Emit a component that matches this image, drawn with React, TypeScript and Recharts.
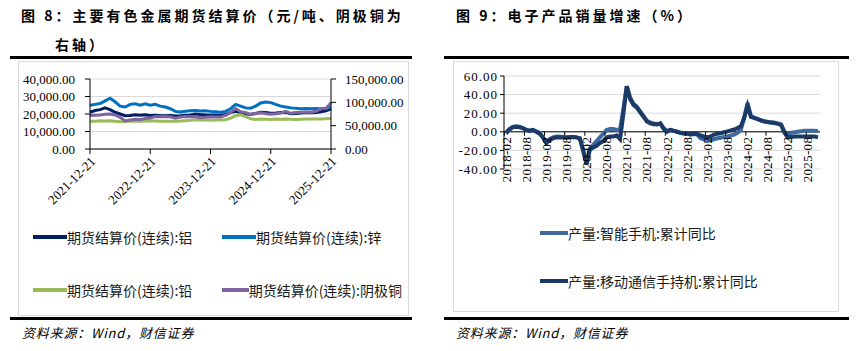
import React from 'react';
import { LineChart, Line, XAxis, YAxis, CartesianGrid, Legend, ReferenceLine } from 'recharts';

const SERIF = '"Liberation Serif","Times New Roman",serif';
const CJK = '"Noto Sans CJK SC","Noto Sans",sans-serif';

// ---------- Left chart data (monthly settlement prices) ----------
const L_DATES = [
  '2021-12-21',
  '2022-01-21', '2022-02-21', '2022-03-21', '2022-04-21', '2022-05-21', '2022-06-21',
  '2022-07-21', '2022-08-21', '2022-09-21', '2022-10-21', '2022-11-21', '2022-12-21',
  '2023-01-21', '2023-02-21', '2023-03-21', '2023-04-21', '2023-05-21', '2023-06-21',
  '2023-07-21', '2023-08-21', '2023-09-21', '2023-10-21', '2023-11-21', '2023-12-21',
  '2024-01-21', '2024-02-21', '2024-03-21', '2024-04-21', '2024-05-21', '2024-06-21',
  '2024-07-21', '2024-08-21', '2024-09-21', '2024-10-21', '2024-11-21', '2024-12-21',
  '2025-01-21', '2025-02-21', '2025-03-21', '2025-04-21', '2025-05-21', '2025-06-21',
  '2025-07-21', '2025-08-21', '2025-09-21', '2025-10-21', '2025-11-21', '2025-12-21',
];
const L_TICKS = ['2021-12-21', '2022-12-21', '2023-12-21', '2024-12-21', '2025-12-21'];
const AL = [
  21000,
  22000, 22500, 23500, 22500, 21000, 20000, 19000, 19200, 19500, 19300, 19500, 19200,
  19300, 19000, 19000, 19200, 18800, 19000, 19300, 19500, 20000, 19700, 19500, 19500,
  19500, 19300, 19700, 20800, 21500, 20800, 20000, 19800, 20300, 21000, 20800, 20500,
  20600, 20800, 21000, 20200, 20300, 20600, 20800, 20700, 20900, 21300, 21800, 23000,
];
const ZN = [
  25000,
  25500, 26000, 27500, 29000, 27000, 24500, 24000, 25500, 25800, 25000, 25800, 25000,
  25500, 24500, 24000, 23000, 21500, 21200, 21600, 21800, 22000, 21700, 21800, 21500,
  21300, 21000, 21500, 23000, 25500, 24500, 23500, 23300, 24500, 26300, 26800, 26500,
  25500, 24500, 24000, 23500, 23300, 23000, 23200, 23000, 23100, 23000, 23300, 23800,
];
const PB = [
  15800,
  15900, 16100, 16000, 16100, 15800, 15600, 15700, 15900, 15800, 15900, 16000, 16100,
  16000, 15900, 15800, 15900, 15800, 16000, 16200, 16400, 16700, 16600, 16500, 16400,
  16500, 16600, 16700, 17600, 19000, 19500, 18500, 17300, 16900, 17100, 17000, 16900,
  17100, 17000, 17200, 17000, 16900, 17000, 17200, 17100, 17200, 17100, 17300, 17400,
];
const CU = [
  72000,
  72500, 73000, 74500, 75000, 73000, 68000, 60000, 62000, 63500, 63000, 65500, 66500,
  69500, 69000, 69500, 69000, 66000, 68500, 69500, 69000, 69000, 67000, 68000, 69000,
  68500, 68500, 72000, 78000, 86500, 80000, 78000, 73500, 76000, 77500, 75500, 74500,
  75500, 77000, 80500, 76500, 78000, 79000, 79500, 79000, 81000, 86500, 87000, 99000,
];
const L_LEFT_TICKS = [0, 10000, 20000, 30000, 40000];
const L_RIGHT_TICKS = [0, 50000, 100000, 150000];
const L_ORDER = ['al', 'zn', 'pb', 'cu'];

// ---------- Right chart data (cumulative YoY, %) ----------
const R_MONTHS = [
  '2018-02', '2018-03', '2018-04', '2018-05', '2018-06', '2018-07', '2018-08', '2018-09', '2018-10', '2018-11', '2018-12',
  '2019-01', '2019-02', '2019-03', '2019-04', '2019-05', '2019-06', '2019-07', '2019-08', '2019-09', '2019-10', '2019-11', '2019-12',
  '2020-01', '2020-02', '2020-03', '2020-04', '2020-05', '2020-06', '2020-07', '2020-08', '2020-09', '2020-10', '2020-11', '2020-12',
  '2021-01', '2021-02', '2021-03', '2021-04', '2021-05', '2021-06', '2021-07', '2021-08', '2021-09', '2021-10', '2021-11', '2021-12',
  '2022-01', '2022-02', '2022-03', '2022-04', '2022-05', '2022-06', '2022-07', '2022-08', '2022-09', '2022-10', '2022-11', '2022-12',
  '2023-01', '2023-02', '2023-03', '2023-04', '2023-05', '2023-06', '2023-07', '2023-08', '2023-09', '2023-10', '2023-11', '2023-12',
  '2024-01', '2024-02', '2024-03', '2024-04', '2024-05', '2024-06', '2024-07', '2024-08', '2024-09', '2024-10', '2024-11', '2024-12',
  '2025-01', '2025-02', '2025-03', '2025-04', '2025-05', '2025-06', '2025-07', '2025-08', '2025-09', '2025-10', '2025-11',
];
const SMART = [
  -2, 2, 5, 6, 5.5, 4, 2.5, 1, 2, 0.5, -1,
  -6, -11, -8, -6, -5, -5, -5.5, -6, -6, -5.5, -6, -7,
  -20, -34, -18, -14, -10, -6, -2, 2, 3, 3, 2, 3,
  25, 49, 37, 30, 27, 22, 17, 12, 10, 9, 8, 9,
  4, 1, 2, 1, 0, -1, -2, -2, -3, -2.5, -3, -7,
  -8, -10, -9, -8, -7, -6.5, -5.5, -5, -4, -3, -1, 2,
  15, 31, 17, 15, 14, 12.5, 11.5, 10.5, 10, 10, 9, 8,
  0, -3, -1, -0.5, 0, 0.5, 1, 1, 1, 1, 0.5,
];
const HANDSET = [
  -1, 3, 5, 5.5, 5, 4, 2, 1, 2, 0, -2,
  -6, -12, -9, -7, -6, -6, -6, -6, -5.5, -5.5, -6, -7,
  -20, -35, -19, -17, -15, -12, -10, -6, -5, -5, -4, -8,
  20, 49, 35, 29, 26, 21, 16, 11, 9, 8, 8, 9,
  3, 0, 2, 1, 0, -1, -1.5, -2, -2.5, -2, -2, -4,
  -5, -6, -5, -3, -2, -1.5, -0.5, 0.5, 1.5, 2.5, 4, 6,
  15, 28, 16, 15, 13.5, 12, 11, 10.5, 10, 9.5, 8.5, 7.5,
  -1, -6, -5.5, -5, -5, -5, -5, -5, -5, -5, -6,
];
const R_TICKS = [-40, -20, 0, 20, 40, 60];
const R_ORDER = ['smart', 'handset'];

// ---------- layout constants ----------
const L_W = 390, L_H = 250, L_MT = 17, L_MB = 5, L_LH = 85, L_XH = 73;
const R_W = 385, R_H = 250, R_MT = 14, R_MB = 5, R_LH = 95, R_XH = 43;
const R_MIN = -40, R_MAX = 60;
const R_PLOT_H = R_H - R_MT - R_MB - R_LH - R_XH;
const R_ZERO_Y = R_MT + (R_PLOT_H * (R_MAX - 0)) / (R_MAX - R_MIN);

const leftData = L_DATES.map((d, i) => ({ date: d, al: AL[i], zn: ZN[i], pb: PB[i], cu: CU[i] }));
const rightData = R_MONTHS.map((m, i) => ({ month: m, smart: SMART[i], handset: HANDSET[i] }));

const fmtThousands = (v: number) =>
  v.toLocaleString('en-US', { minimumFractionDigits: 2, maximumFractionDigits: 2 });

const sortBy = (items: any[], order: string[]) =>
  [...items].sort((a, b) => order.indexOf(String(a.dataKey)) - order.indexOf(String(b.dataKey)));

const LeftXTick = (props: any) => {
  const { x, y, payload } = props;
  return (
    <text
      transform={`translate(${x + 3},${y + 3}) rotate(-45)`}
      textAnchor="end"
      dy="0.35em"
      fontSize={13}
      fontFamily={SERIF}
      fill="#000"
    >
      {payload.value}
    </text>
  );
};

const RightXTick = (props: any) => {
  const { x, payload } = props;
  return (
    <g>
      <line x1={x - 1.7} x2={x - 1.7} y1={R_ZERO_Y} y2={R_ZERO_Y + 4} stroke="#000" strokeWidth={1} />
      <text
        transform={`translate(${x},${R_ZERO_Y + 5}) rotate(-90)`}
        textAnchor="end"
        dy="0.35em"
        fontSize={13}
        fontFamily={SERIF}
        fill="#000"
        letterSpacing={0.3}
      >
        {payload.value}
      </text>
    </g>
  );
};

const LeftLegend = (props: any) => {
  const items = sortBy(props.payload || [], L_ORDER);
  return (
    <div
      style={{
        display: 'grid',
        gridTemplateColumns: '189px 180px',
        rowGap: 21,
        paddingLeft: 15,
        height: L_LH,
        boxSizing: 'border-box',
        fontFamily: CJK,
        fontSize: 14,
        color: '#1a1a1a',
      }}
    >
      {items.map((it: any) => (
        <div key={it.value} style={{ display: 'flex', alignItems: 'center', height: 30, whiteSpace: 'nowrap' }}>
          <span style={{ display: 'inline-block', width: 34, height: 3.5, background: it.color }} />
          <span>{it.value}</span>
        </div>
      ))}
    </div>
  );
};

const RightLegend = (props: any) => {
  const items = sortBy(props.payload || [], R_ORDER);
  return (
    <div
      style={{
        display: 'flex',
        flexDirection: 'column',
        paddingLeft: 87,
        paddingTop: 6,
        rowGap: 18,
        height: R_LH,
        boxSizing: 'border-box',
        fontFamily: CJK,
        fontSize: 14,
        color: '#1a1a1a',
      }}
    >
      {items.map((it: any) => (
        <div key={it.value} style={{ display: 'flex', alignItems: 'center', height: 30, whiteSpace: 'nowrap' }}>
          <span style={{ display: 'inline-block', width: 28, height: 3.5, background: it.color }} />
          <span>{it.value}</span>
        </div>
      ))}
    </div>
  );
};

const titleStyle: React.CSSProperties = {
  position: 'absolute',
  fontFamily: CJK,
  fontWeight: 700,
  fontSize: 14,
  letterSpacing: 3,
  lineHeight: '18px',
  color: '#000',
  whiteSpace: 'nowrap',
};
const footStyle: React.CSSProperties = {
  position: 'absolute',
  fontFamily: CJK,
  fontStyle: 'italic',
  fontSize: 13,
  letterSpacing: 0.8,
  lineHeight: '16px',
  color: '#000',
  whiteSpace: 'nowrap',
};
const rule = (left: number, top: number, width: number): React.CSSProperties => ({
  position: 'absolute',
  left,
  top,
  width,
  height: 3,
  background: '#000',
});
const frame = (left: number, top: number, width: number, height: number): React.CSSProperties => ({
  position: 'absolute',
  left,
  top,
  width,
  height,
  border: '1px solid #D9D9D9',
  boxSizing: 'border-box',
});

export default function App() {
  return (
    <div style={{ position: 'absolute', left: 0, top: 0, width: 865, height: 351, background: '#fff', overflow: 'hidden' }}>
      {/* Left panel */}
      <div style={{ ...titleStyle, left: 21, top: 6 }}>图 8：主要有色金属期货结算价（元/吨、阴极铜为</div>
      <div style={{ ...titleStyle, left: 55, top: 35 }}>右轴）</div>
      <div style={rule(10, 56, 402)} />
      <div style={frame(18, 61, 391, 255)} />
      <div style={{ position: 'absolute', left: 18, top: 62 }}>
        <LineChart width={L_W} height={L_H} data={leftData} margin={{ top: L_MT, right: 5, left: 0, bottom: L_MB }}>
          <CartesianGrid yAxisId="left" vertical={false} stroke="#D9D9D9" />
          <XAxis
            dataKey="date"
            ticks={L_TICKS}
            interval={0}
            height={L_XH}
            tick={(p: any) => <LeftXTick {...p} />}
            tickSize={5}
            tickLine={{ stroke: '#000' }}
            axisLine={{ stroke: '#000' }}
          />
          <YAxis
            yAxisId="left"
            width={72}
            domain={[0, 40000]}
            ticks={L_LEFT_TICKS}
            interval={0}
            tickFormatter={fmtThousands}
            tick={{ fontSize: 13, fontFamily: SERIF, fill: '#000' }}
            tickSize={5}
            tickMargin={10}
            tickLine={{ stroke: '#000' }}
            axisLine={{ stroke: '#000' }}
          />
          <YAxis
            yAxisId="right"
            orientation="right"
            width={72}
            domain={[0, 150000]}
            ticks={L_RIGHT_TICKS}
            interval={0}
            tickFormatter={fmtThousands}
            tick={{ fontSize: 13, fontFamily: SERIF, fill: '#000' }}
            tickSize={5}
            tickMargin={9}
            tickLine={{ stroke: '#000' }}
            axisLine={{ stroke: '#000' }}
          />
          <Legend
            verticalAlign="bottom"
            height={L_LH}
            content={(p: any) => <LeftLegend {...p} />}
            wrapperStyle={{ left: 0, width: L_W, bottom: L_MB }}
          />
          <Line yAxisId="left" dataKey="al" name="期货结算价(连续):铝" stroke="#002060" strokeWidth={3} dot={false} isAnimationActive={false} />
          <Line yAxisId="left" dataKey="zn" name="期货结算价(连续):锌" stroke="#0070C0" strokeWidth={3} dot={false} isAnimationActive={false} />
          <Line yAxisId="left" dataKey="pb" name="期货结算价(连续):铅" stroke="#9BBB59" strokeWidth={3} dot={false} isAnimationActive={false} />
          <Line yAxisId="right" dataKey="cu" name="期货结算价(连续):阴极铜" stroke="#8064A2" strokeWidth={3} dot={false} isAnimationActive={false} />
        </LineChart>
      </div>
      <div style={rule(10, 317, 402)} />
      <div style={{ ...footStyle, left: 22, top: 325 }}>资料来源：Wind，财信证券</div>

      {/* Right panel */}
      <div style={{ ...titleStyle, left: 456, top: 6 }}>图 9：电子产品销量增速（%）</div>
      <div style={rule(444, 56, 405)} />
      <div style={frame(453, 61, 386, 251)} />
      <div style={{ position: 'absolute', left: 453, top: 62 }}>
        <LineChart width={R_W} height={R_H} data={rightData} margin={{ top: R_MT, right: 18, left: 0, bottom: R_MB }}>
          <CartesianGrid vertical={false} stroke="#D9D9D9" />
          <XAxis
            dataKey="month"
            interval={5}
            height={R_XH}
            padding={{ left: 2, right: 2 }}
            axisLine={false}
            tickLine={false}
            tick={(p: any) => <RightXTick {...p} />}
          />
          <YAxis
            width={51}
            domain={[R_MIN, R_MAX]}
            ticks={R_TICKS}
            interval={0}
            tickFormatter={(v: number) => v.toFixed(2)}
            tick={{ fontSize: 13, fontFamily: SERIF, fill: '#000', letterSpacing: 1 }}
            tickSize={4}
            tickMargin={2}
            tickLine={{ stroke: '#000' }}
            axisLine={{ stroke: '#000' }}
          />
          <ReferenceLine y={0} stroke="#000" strokeWidth={1} />
          <Legend
            verticalAlign="bottom"
            height={R_LH}
            content={(p: any) => <RightLegend {...p} />}
            wrapperStyle={{ left: 0, width: R_W, bottom: R_MB }}
          />
          <Line dataKey="smart" name="产量:智能手机:累计同比" stroke="#3E6AA0" strokeWidth={4} dot={false} isAnimationActive={false} />
          <Line dataKey="handset" name="产量:移动通信手持机:累计同比" stroke="#1B3A66" strokeWidth={4} dot={false} isAnimationActive={false} />
        </LineChart>
      </div>
      <div style={rule(444, 317, 405)} />
      <div style={{ ...footStyle, left: 456, top: 325 }}>资料来源：Wind，财信证券</div>
    </div>
  );
}
